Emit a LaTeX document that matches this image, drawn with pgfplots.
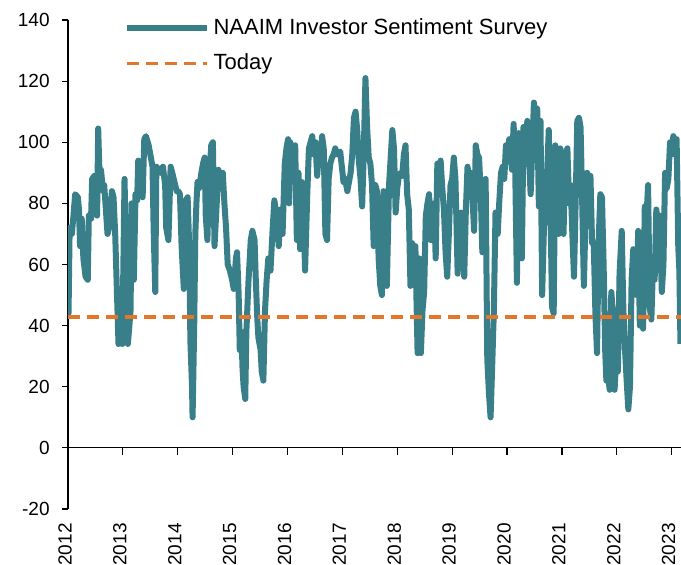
\documentclass[border=0pt]{standalone}
\usepackage{fontspec}
\setmainfont{Liberation Sans}
\usepackage{pgfplots}
\pgfplotsset{compat=1.18}
\definecolor{teal1}{RGB}{57,127,137}
\definecolor{orange1}{RGB}{226,118,42}
\begin{document}
\begin{tikzpicture}
\useasboundingbox (-34pt,-27.5pt) rectangle (306.5pt,254.5pt);
\begin{axis}[
  scale only axis,
  width=306.5pt, height=244.5pt,
  at={(0pt,0pt)}, anchor=south west,
  xmin=2012, xmax=2023.17,
  ymin=-20, ymax=140,
  ytick={-20,0,20,...,140},
  xtick={2012,2013,...,2023},
  x tick label style={/pgf/number format/1000 sep={}},
  /pgf/number format/assume math mode=true,
  axis y line*=left,
  axis x line*=bottom,
  x axis line style={draw=none},
  major x tick style={draw=none},
  tick align=outside,
  major tick length=3pt,
  every tick/.style={black, line width=0.6pt},
  y axis line style={black, line width=0.6pt},
  ticklabel style={font=\fontsize{9.5}{11}\selectfont},
  xticklabel style={yshift=-4pt, xshift=-1.5pt, rotate=90, anchor=east, inner sep=0pt},
  yticklabel style={inner sep=0pt, xshift=-6pt},
  legend style={draw=none, fill=none, at={(rel axis cs:0.09,1.011)}, anchor=north west,
    font=\fontsize{11}{13}\selectfont, row sep=4pt, inner sep=0pt,
    /tikz/every even column/.append style={column sep=4pt}},
  legend cell align=left,
  legend image code/.code={\draw[#1] (0pt,0pt) -- (40pt,0pt);},
]
\addplot[teal1, line width=3pt, line join=round] coordinates {
(2012.00,68) (2012.01,44) (2012.03,72) (2012.07,70) (2012.10,76) (2012.13,83) (2012.18,82) (2012.20,78)
(2012.22,66) (2012.25,75) (2012.28,62) (2012.32,56) (2012.36,55) (2012.38,76) (2012.42,75) (2012.44,88)
(2012.48,89) (2012.50,82) (2012.53,76) (2012.55,104.5) (2012.58,86) (2012.60,91) (2012.64,84) (2012.66,86)
(2012.69,78) (2012.72,70) (2012.75,72) (2012.80,84) (2012.83,82) (2012.86,70) (2012.89,52) (2012.92,34)
(2012.96,36) (2012.99,34) (2013.03,88) (2013.06,62) (2013.09,34) (2013.11,38) (2013.14,45) (2013.16,80)
(2013.20,55) (2013.23,83) (2013.26,81) (2013.28,94) (2013.32,84) (2013.36,82) (2013.39,101) (2013.42,102)
(2013.47,99) (2013.50,96) (2013.54,92) (2013.56,72) (2013.59,51) (2013.61,92) (2013.65,91) (2013.68,90)
(2013.73,92) (2013.77,86) (2013.79,72) (2013.83,68) (2013.87,92) (2013.90,90) (2013.94,87) (2013.98,84)
(2014.01,84) (2014.04,83) (2014.07,66) (2014.11,52) (2014.15,81) (2014.18,82) (2014.21,65) (2014.23,35)
(2014.26,20) (2014.27,10) (2014.30,40) (2014.32,70) (2014.34,80) (2014.36,87) (2014.39,85) (2014.43,90)
(2014.46,93) (2014.49,95) (2014.51,76) (2014.54,68) (2014.57,88) (2014.61,99) (2014.64,100) (2014.67,66)
(2014.71,80) (2014.74,91) (2014.78,88) (2014.82,90) (2014.85,80) (2014.88,72) (2014.91,60) (2014.95,58)
(2014.99,55) (2015.02,52) (2015.06,62) (2015.08,64) (2015.11,50) (2015.13,32) (2015.16,38) (2015.18,26)
(2015.20,20) (2015.23,16) (2015.25,38) (2015.29,55) (2015.33,68) (2015.36,71) (2015.40,68) (2015.42,56)
(2015.45,42) (2015.47,36) (2015.51,32) (2015.53,25) (2015.56,22) (2015.59,45) (2015.62,55) (2015.65,62)
(2015.69,58) (2015.73,72) (2015.76,81) (2015.80,76) (2015.84,66) (2015.87,78) (2015.91,70) (2015.95,93)
(2015.98,98) (2016.01,101) (2016.03,80) (2016.05,100) (2016.08,90) (2016.11,96) (2016.14,99) (2016.17,68)
(2016.20,90) (2016.23,65) (2016.26,87) (2016.29,78) (2016.32,58) (2016.36,83) (2016.39,98) (2016.42,100)
(2016.45,102) (2016.48,96) (2016.51,100) (2016.54,89) (2016.57,96) (2016.60,95) (2016.63,102) (2016.66,98)
(2016.69,70) (2016.72,68) (2016.75,88) (2016.78,93) (2016.81,95) (2016.84,96) (2016.87,98) (2016.91,96)
(2016.96,97) (2016.99,92) (2017.02,87) (2017.05,88) (2017.09,84) (2017.12,87) (2017.15,90) (2017.18,96)
(2017.21,108) (2017.24,110) (2017.27,104) (2017.30,94) (2017.33,88) (2017.36,79) (2017.39,97) (2017.42,121)
(2017.45,105) (2017.48,95) (2017.51,93) (2017.54,86) (2017.57,66) (2017.60,86) (2017.63,84) (2017.66,62)
(2017.69,53) (2017.72,50) (2017.75,84) (2017.78,55) (2017.81,53) (2017.85,86) (2017.88,95) (2017.91,104)
(2017.94,98) (2017.97,77) (2018.00,85) (2018.03,89) (2018.06,90) (2018.09,89) (2018.12,96) (2018.15,99)
(2018.18,83) (2018.21,78) (2018.24,53) (2018.27,67) (2018.30,62) (2018.33,66) (2018.37,31) (2018.40,62)
(2018.43,31) (2018.46,45) (2018.49,51) (2018.52,76) (2018.55,80) (2018.58,83) (2018.61,68) (2018.64,78)
(2018.67,80) (2018.70,62) (2018.73,93) (2018.76,90) (2018.79,94) (2018.82,85) (2018.85,78) (2018.88,64)
(2018.91,56) (2018.94,70) (2018.97,86) (2019.00,88) (2019.03,95) (2019.06,88) (2019.10,57) (2019.13,70)
(2019.16,77) (2019.19,70) (2019.22,56) (2019.25,78) (2019.28,92) (2019.31,88) (2019.34,90) (2019.37,82)
(2019.40,71) (2019.43,99) (2019.46,96) (2019.49,95) (2019.52,84) (2019.55,64) (2019.58,82) (2019.61,88)
(2019.64,29) (2019.67,18) (2019.70,10) (2019.73,27) (2019.76,45) (2019.79,77) (2019.83,70) (2019.86,81)
(2019.89,90) (2019.92,92) (2019.95,88) (2019.98,99) (2020.01,96) (2020.04,101) (2020.09,91) (2020.12,106)
(2020.15,90) (2020.18,54) (2020.21,103) (2020.24,80) (2020.27,62) (2020.30,105) (2020.33,100) (2020.37,107)
(2020.40,95) (2020.43,83) (2020.46,98) (2020.49,113) (2020.52,108) (2020.55,111) (2020.58,79) (2020.61,107)
(2020.64,50) (2020.67,70) (2020.70,81) (2020.73,90) (2020.76,104) (2020.79,80) (2020.82,46) (2020.85,44)
(2020.88,99) (2020.91,85) (2020.94,70) (2020.97,98) (2021.00,80) (2021.03,70) (2021.06,96) (2021.10,98)
(2021.13,80) (2021.16,86) (2021.19,70) (2021.22,56) (2021.25,80) (2021.28,107) (2021.31,108) (2021.34,105)
(2021.37,80) (2021.40,53) (2021.43,75) (2021.46,90) (2021.49,86) (2021.52,89) (2021.55,67) (2021.58,67)
(2021.61,44) (2021.64,31) (2021.67,68) (2021.70,83) (2021.73,82) (2021.76,60) (2021.79,31) (2021.81,22)
(2021.84,24) (2021.87,19) (2021.90,51) (2021.93,44) (2021.96,19) (2021.99,30) (2022.02,25) (2022.05,57)
(2022.09,71) (2022.12,45) (2022.15,32) (2022.18,22) (2022.21,12.6) (2022.24,20) (2022.27,55) (2022.30,65)
(2022.33,58) (2022.36,50) (2022.39,71) (2022.42,40) (2022.45,62) (2022.48,39) (2022.51,79) (2022.54,75)
(2022.57,86) (2022.60,46) (2022.63,42) (2022.66,60) (2022.69,55) (2022.72,78) (2022.75,72) (2022.78,76)
(2022.82,51) (2022.85,60) (2022.88,90) (2022.91,85) (2022.94,88) (2022.97,100) (2023.00,96) (2023.03,102)
(2023.06,100) (2023.09,101) (2023.12,66) (2023.14,58) (2023.16,34)
};
\addlegendentry{NAAIM Investor Sentiment Survey}
\addplot[orange1, line width=1.8pt, dash pattern=on 6pt off 3.5pt] coordinates {(2012,42.9) (2023.17,42.9)};
\addlegendentry{Today}
\addplot[black, line width=0.6pt, forget plot] coordinates {(2012,0) (2023.17,0)};
\addplot[black, line width=0.6pt, ycomb, mark=none, forget plot] coordinates {
(2013,-2.3) (2014,-2.3) (2015,-2.3) (2016,-2.3) (2017,-2.3) (2018,-2.3) (2019,-2.3) (2020,-2.3) (2021,-2.3) (2022,-2.3) (2023,-2.3)};
\end{axis}
\end{tikzpicture}
\end{document}
